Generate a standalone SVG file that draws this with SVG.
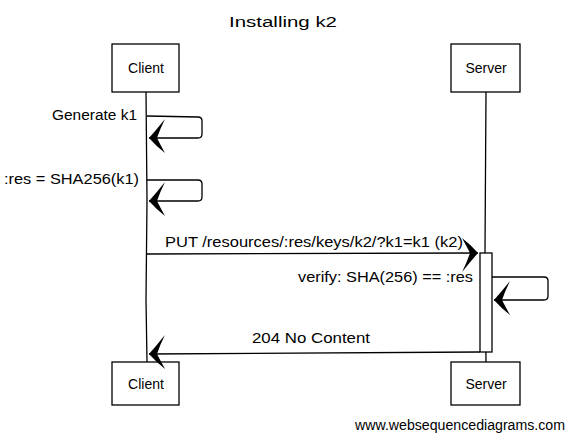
<svg xmlns="http://www.w3.org/2000/svg" width="568" height="435" viewBox="0 0 568 435">
<style>
.box{fill:#fff;stroke:#000;stroke-width:1.3}
.ln{fill:none;stroke:#000;stroke-width:1.3}
.t{font-family:"Liberation Sans",Arial,sans-serif;font-size:14px;fill:#000}
.wm{font-family:"Liberation Sans",Arial,sans-serif;font-size:14px;fill:#000}
</style>
<defs>
<marker id="ah" markerUnits="userSpaceOnUse" viewBox="-18 -18 20 40" refX="0" refY="0" markerWidth="20" markerHeight="40" orient="auto">
<path d="M0,0 Q-8,-9 -16,-15 Q-11,-6 -8,0 Q-11,9 -16,19 Q-8,9 0,0 Z" fill="#000"/>
</marker>
</defs>
<rect width="568" height="435" fill="#fff"/>
<text class="t" x="283" y="27" text-anchor="middle" textLength="108" lengthAdjust="spacingAndGlyphs">Installing k2</text>
<g id="lifelines">
<path class="ln" d="M146,92 L147,200 L146,300 L147,362"/>
<path class="ln" d="M486,92 L485,250 L486,362"/>
</g>
<g id="client-top"><rect class="box" x="112" y="44" width="67" height="48"/><text class="t" x="146" y="73" text-anchor="middle">Client</text></g>
<g id="server-top"><rect class="box" x="451" y="44" width="69" height="48"/><text class="t" x="486" y="73" text-anchor="middle">Server</text></g>
<g id="activation"><rect class="box" x="480" y="253" width="12" height="99"/></g>
<g id="client-bottom"><rect class="box" x="112" y="362" width="67" height="43"/><text class="t" x="146" y="389" text-anchor="middle">Client</text></g>
<g id="server-bottom"><rect class="box" x="451" y="362" width="69" height="43"/><text class="t" x="486" y="389" text-anchor="middle">Server</text></g>
<g id="connectors">
<path class="ln" d="M147,116 L198,117 Q202,117 202,121 L202,134 Q202,138 198,138 L149,138" marker-end="url(#ah)"/>
<path class="ln" d="M147,180 L198,180 Q202,180 202,184 L202,197 Q202,201 198,201 L149,201" marker-end="url(#ah)"/>
<path class="ln" d="M147,254 L478,253" marker-end="url(#ah)"/>
<path class="ln" d="M492,277 L544,277 Q548,277 548,281 L548,296 Q548,300 544,300 L494,300" marker-end="url(#ah)"/>
<path class="ln" d="M480,352 L149,354" marker-end="url(#ah)"/>
</g>
<g id="labels">
<text class="t" x="137" y="120" text-anchor="end" textLength="85" lengthAdjust="spacingAndGlyphs">Generate k1</text>
<text class="t" x="139" y="184" text-anchor="end" textLength="135" lengthAdjust="spacingAndGlyphs">:res = SHA256(k1)</text>
<text class="t" x="165" y="247" textLength="298" lengthAdjust="spacingAndGlyphs">PUT /resources/:res/keys/k2/?k1=k1 (k2)</text>
<text class="t" x="473" y="282" text-anchor="end" textLength="175" lengthAdjust="spacingAndGlyphs">verify: SHA(256) == :res</text>
<text class="t" x="311" y="343" text-anchor="middle" textLength="118" lengthAdjust="spacingAndGlyphs">204 No Content</text>
</g>
<text class="wm" x="355" y="430" textLength="210" lengthAdjust="spacingAndGlyphs">www.websequencediagrams.com</text>
</svg>
